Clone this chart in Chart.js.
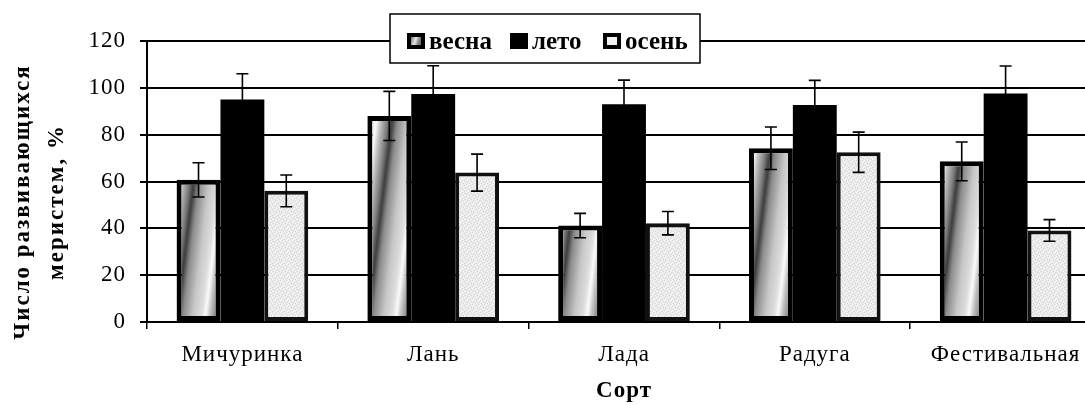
<!DOCTYPE html>
<html>
<head>
<meta charset="utf-8">
<script src="https://cdn.jsdelivr.net/npm/chart.js@4.4.1/dist/chart.umd.min.js"></script>
<style>
  html, body { margin: 0; padding: 0; background: #fff; overflow: hidden; }
  /* plot runs a little past the right edge, like the source picture */
  .wrap { position: relative; width: 1105px; height: 405px; }
</style>
</head>
<body>
<div class="wrap"><canvas id="c"></canvas></div>
<script>
// data
const categories = ['Мичуринка', 'Лань', 'Лада', 'Радуга', 'Фестивальная'];
const seriesNames = ['весна', 'лето', 'осень'];
const spring    = [60.7, 88, 41.2, 74.2, 68.6];
const summer    = [95, 97.4, 93, 92.7, 97.6];
const autumn    = [56, 63.8, 42.2, 72.5, 39.1];
const springErr = [7.3, 10.5, 5.2, 9.1, 8.3];
const summerErr = [11, 12, 10.3, 10.5, 11.7];
const autumnErr = [6.8, 7.9, 5, 8.6, 4.6];
const yTicks = [0, 20, 40, 60, 80, 100, 120];
const yTitle = ['Число развивающихся', 'меристем, %'];
const xTitle = 'Сорт';

const FONT = '"Liberation Serif", "Times New Roman", serif';
const CAT_PCT = 0.69;

// light speckled tile for "осень"
function speckle() {
  const t = document.createElement('canvas');
  t.width = 6; t.height = 6;
  const g = t.getContext('2d');
  g.fillStyle = '#ebebeb'; g.fillRect(0, 0, 6, 6);
  g.fillStyle = '#d6d6d6';
  [[0,0],[3,1],[1,3],[4,4],[5,2],[2,5]].forEach(p => g.fillRect(p[0], p[1], 1, 1));
  g.fillStyle = '#f9f9f9';
  [[1,1],[4,0],[2,3],[5,5],[0,4]].forEach(p => g.fillRect(p[0], p[1], 1, 1));
  return t;
}

// one period of the grey "wood" stripes used for "весна"
function stripeTile() {
  const t = document.createElement('canvas');
  t.width = 44; t.height = 1;
  const g = t.getContext('2d');
  const lg = g.createLinearGradient(0, 0, 44, 0);
  lg.addColorStop(0, '#3c3c3c');
  lg.addColorStop(0.12, '#8a8a8a');
  lg.addColorStop(0.35, '#c6c6c6');
  lg.addColorStop(0.55, '#dedede');
  lg.addColorStop(0.64, '#fbfbfb');
  lg.addColorStop(0.74, '#c2c2c2');
  lg.addColorStop(0.9, '#7a7a7a');
  lg.addColorStop(1, '#3c3c3c');
  g.fillStyle = lg; g.fillRect(0, 0, 44, 1);
  return t;
}

const ctx = document.getElementById('c').getContext('2d');
const autumnFill = ctx.createPattern(speckle(), 'repeat');
const stripes = stripeTile();
const errs = [springErr, summerErr, autumnErr];

// slanted stripes, anchored to each bar through the scales
function springFill(c) {
  const chart = c.chart, xs = chart.scales.x, ys = chart.scales.y;
  if (!xs || !ys || c.dataIndex == null) return '#aaa';
  const barW = (xs.right - xs.left) / categories.length * CAT_PCT / 3;
  const x0 = xs.getPixelForValue(c.dataIndex) - 1.5 * barW;
  const yb = ys.getPixelForValue(0);
  if (![barW, x0, yb].every(Number.isFinite) || barW <= 0) return '#aaa';
  const p = chart.ctx.createPattern(stripes, 'repeat');
  p.setTransform(new DOMMatrix().translateSelf(x0, yb).skewXSelf(-7));
  return p;
}

const spacing = {
  id: 'spacing',
  beforeDraw(chart) { chart.ctx.letterSpacing = '1px'; },
};

const errorBars = {
  id: 'errorBars',
  afterDatasetsDraw(chart) {
    const c = chart.ctx, ys = chart.scales.y;
    c.save();
    c.strokeStyle = '#000';
    c.lineWidth = 1.6;
    chart.data.datasets.forEach((ds, i) => {
      chart.getDatasetMeta(i).data.forEach((bar, j) => {
        const v = ds.data[j], e = errs[i][j];
        const t = ys.getPixelForValue(v + e), b = ys.getPixelForValue(v - e);
        c.beginPath();
        c.moveTo(bar.x, t); c.lineTo(bar.x, b);
        c.moveTo(bar.x - 6, t); c.lineTo(bar.x + 6, t);
        c.moveTo(bar.x - 6, b); c.lineTo(bar.x + 6, b);
        c.stroke();
      });
    });
    c.restore();
  }
};

const yTitlePlugin = {
  id: 'yTitle',
  afterDraw(chart) {
    const c = chart.ctx;
    c.save();
    c.letterSpacing = '2px';
    c.font = 'bold 23px ' + FONT;
    c.fillStyle = '#000';
    c.textAlign = 'center';
    c.textBaseline = 'middle';
    [23, 57].forEach((x, k) => {
      c.save();
      c.translate(x, 202);
      c.rotate(-Math.PI / 2);
      c.fillText(yTitle[k], 0, 0);
      c.restore();
    });
    c.restore();
  }
};

const boxLegend = {
  id: 'boxLegend',
  afterDraw(chart) {
    const c = chart.ctx;
    c.save();
    c.fillStyle = '#fff';
    c.fillRect(390, 14, 310, 49);
    c.strokeStyle = '#000';
    c.lineWidth = 1.5;
    c.strokeRect(390, 14, 310, 49);
    c.letterSpacing = '0px';
    c.font = 'bold 25px ' + FONT;
    c.textBaseline = 'alphabetic';
    const sx = [407, 510, 603];
    chart.data.datasets.forEach((ds, i) => {
      const x = sx[i], y = 33, w = 18, h = 16;
      c.fillStyle = '#000';
      c.fillRect(x, y, w, h);
      if (i === 0) {
        const g = c.createLinearGradient(x + 4, y, x + w - 4, y + 3);
        g.addColorStop(0, '#555'); g.addColorStop(0.6, '#e8e8e8'); g.addColorStop(1, '#777');
        c.fillStyle = g; c.fillRect(x + 4, y + 4, w - 8, h - 8);
      } else if (i === 2) {
        c.fillStyle = '#f2f2f2'; c.fillRect(x + 4, y + 4, w - 8, h - 8);
      }
      c.fillStyle = '#000';
      c.fillText(ds.label, x + w + 4, 49);
    });
    c.restore();
  }
};

new Chart(ctx, {
  type: 'bar',
  data: {
    labels: categories,
    datasets: [
      { label: seriesNames[0], data: spring, backgroundColor: springFill, borderColor: '#000', borderWidth: 5 },
      { label: seriesNames[1], data: summer, backgroundColor: '#000', borderColor: '#000', borderWidth: 0 },
      { label: seriesNames[2], data: autumn, backgroundColor: autumnFill, borderColor: '#111', borderWidth: 4 },
    ],
  },
  options: {
    responsive: true, maintainAspectRatio: false, animation: false,
    layout: { padding: { top: 41, right: 4, left: 0, bottom: 0 } },
    datasets: { bar: { categoryPercentage: CAT_PCT, barPercentage: 1, borderSkipped: false } },
    plugins: { legend: { display: false }, tooltip: { enabled: false } },
    scales: {
      x: {
        grid: { drawOnChartArea: false, drawTicks: true, tickLength: 7, color: '#000', lineWidth: 1.5 },
        border: { color: '#000', width: 2 },
        ticks: { color: '#000', font: { family: FONT, size: 23 }, padding: 12, maxRotation: 0, autoSkip: false },
        title: { display: true, text: xTitle, color: '#000', font: { family: FONT, size: 23, weight: 'bold' }, padding: 0 },
        afterFit: s => { s.height = 83; },
      },
      y: {
        min: yTicks[0], max: yTicks[yTicks.length - 1],
        ticks: { stepSize: yTicks[1] - yTicks[0], color: '#000', font: { family: FONT, size: 23 }, padding: 14 },
        grid: { color: '#000', lineWidth: 2, tickLength: 7 },
        border: { color: '#000', width: 2 },
        afterFit: s => { s.width = 147; },
      },
    },
  },
  plugins: [spacing, errorBars, yTitlePlugin, boxLegend],
});
</script>
</body>
</html>
